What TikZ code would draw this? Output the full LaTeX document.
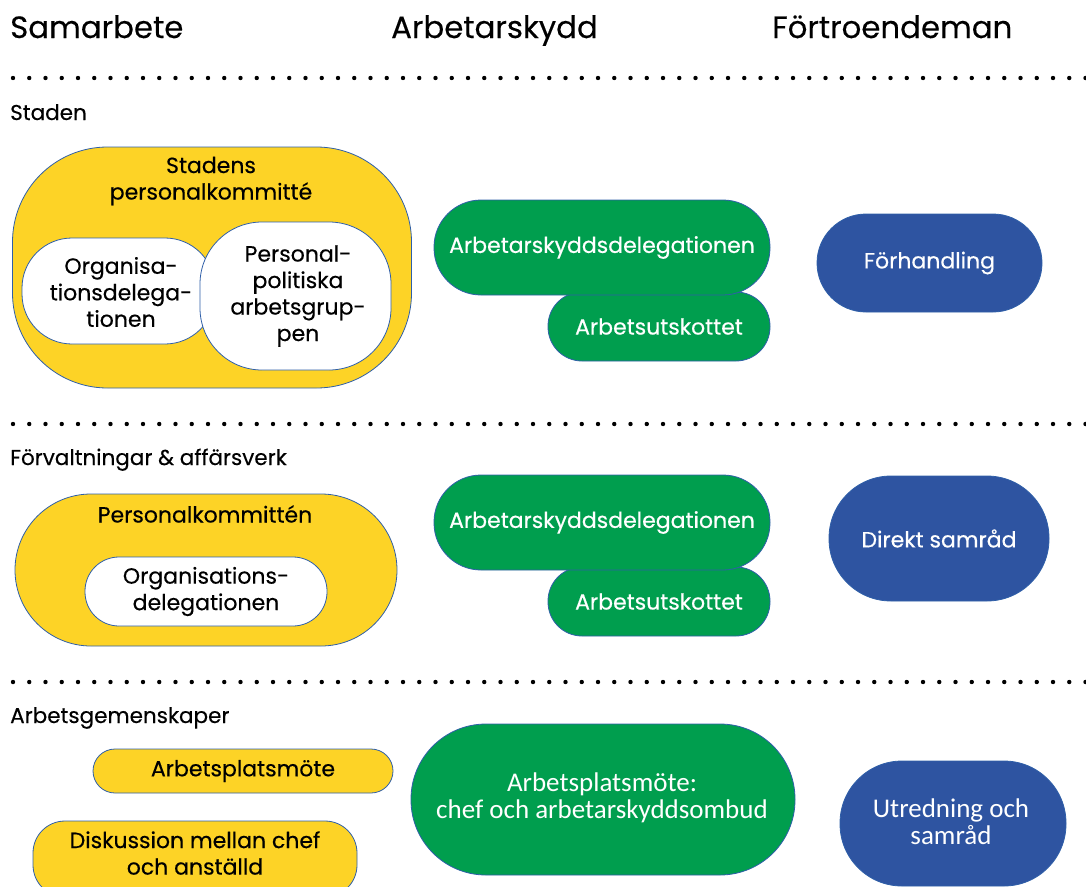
\documentclass[tikz,border=0pt]{standalone}
\usepackage{fontspec}
\setmainfont{Poppins}[FakeBold=0.3]
\newfontfamily\bodyfont{Poppins}[FakeBold=0.35]
\newfontfamily\calfont{Carlito}
\definecolor{yel}{HTML}{FDD326}
\definecolor{grn}{HTML}{009E4E}
\definecolor{blu}{HTML}{2E54A1}
\definecolor{outl}{HTML}{2F5FA8}
\tikzset{
  shp/.style={rectangle, draw=outl, line width=0.8pt, inner sep=0pt, align=center},
  ybox/.style={shp, fill=yel, text=black},
  wbox/.style={shp, fill=white, text=black},
  gbox/.style={shp, fill=grn, text=white},
  bbox/.style={shp, fill=blu, text=white},
  caltext/.style={font=\fontsize{27}{27}\calfont},
  txt/.style={inner sep=0pt, align=center},
  hdr/.style={inner sep=0pt, anchor=base west, font=\fontsize{30.8}{36}\selectfont},
  lbl/.style={inner sep=0pt, anchor=base west, font=\fontsize{21.5}{26}\selectfont},
}
\begin{document}
\begin{tikzpicture}[x=1pt,y=-1pt, font=\fontsize{22}{26.5}\bodyfont]
\useasboundingbox (0,0) rectangle (1086,886);
\clip (0,0) rectangle (1086,886);
% headers
\node[hdr] (h1) at (10,38) {Samarbete};
\node[hdr] (h2) at (391,38) {Arbetarskydd};
\node[hdr] (h3) at (772,38) {Förtroendeman};
% dotted separators
\foreach \yy in {78,424,682}{
  \foreach \i in {0,...,66}{
    \fill (13+\i*16.25,\yy) circle (2.2);
  }
}
% section labels
\node[lbl] (s1) at (10,120) {Staden};
\node[lbl] (s2) at (10,465) {Förvaltningar \& affärsverk};
\node[lbl] (s3) at (10,723) {Arbetsgemenskaper};

% ---- Staden ----
\node[ybox, minimum width=399, minimum height=241, rounded corners=95] (spk) at (212,267.5) {};
\node[txt] (spkt) at (211,181) {Stadens\\personalkommitté};
\node[wbox, minimum width=193, minimum height=106, rounded corners=50] (od1) at (118.5,291) {};
\node[wbox, minimum width=191, minimum height=148, rounded corners=62] (ppa) at (295.5,296) {};
\node[txt] (od1t) at (121,292) {Organisa-\\tionsdelega-\\tionen};
\node[txt] (ppat) at (298,296) {Personal-\\politiska\\arbetsgrup-\\pen};

\node[gbox, minimum width=222, minimum height=69, rounded corners=34] (au1) at (659,326.5) {Arbetsutskottet};
\node[gbox, minimum width=336, minimum height=95, rounded corners=47] (ad1) at (602,247.5) {Arbetarskyddsdelegationen};

\node[bbox, minimum width=225, minimum height=98, rounded corners=49] (fh) at (929.5,263) {Förhandling};

% ---- Förvaltningar ----
\node[ybox, minimum width=382, minimum height=152, rounded corners=76] (pk) at (206,570) {};
\node[txt] (pkt) at (205,514) {Personalkommittén};
\node[wbox, minimum width=242, minimum height=69, rounded corners=34] (od2) at (206,591.5) {Organisations-\\delegationen};

\node[gbox, minimum width=222, minimum height=69, rounded corners=34] (au2) at (659,601.5) {Arbetsutskottet};
\node[gbox, minimum width=336, minimum height=95, rounded corners=47] (ad2) at (602,522.5) {Arbetarskyddsdelegationen};

\node[bbox, minimum width=220, minimum height=125, rounded corners=62] (ds) at (939,538.5) {Direkt samråd};

% ---- Arbetsgemenskaper ----
\node[ybox, minimum width=300, minimum height=44, rounded corners=22] (apm) at (243,771) {Arbetsplatsmöte};
\node[ybox, minimum width=324, minimum height=76, rounded corners=32] (dmc) at (195,859) {};
\node[txt] (dmct) at (195,853) {Diskussion mellan chef\\och anställd};

\node[gbox, minimum width=384, minimum height=151, rounded corners=75] (apc) at (603,799.5) {};
\node[txt, caltext, text=white] (apct) at (602,798) {Arbetsplatsmöte:\\chef och arbetarskyddsombud};

\node[bbox, minimum width=226, minimum height=125, rounded corners=62] (us) at (953,823.5) {};
\node[txt, caltext, text=white] (ust) at (951,822) {Utredning och\\samråd};
\end{tikzpicture}
\end{document}
